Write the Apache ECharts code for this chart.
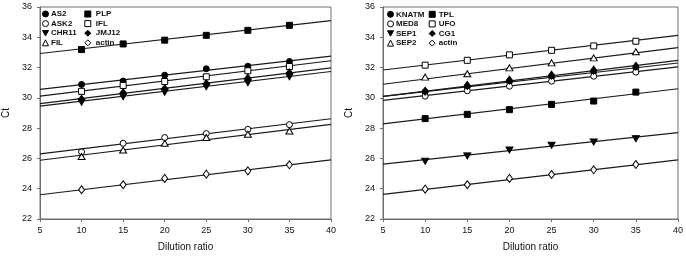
<!DOCTYPE html>
<html><head><meta charset="utf-8">
<script src="https://cdn.jsdelivr.net/npm/echarts@6/dist/echarts.min.js"></script>
<style>html,body{margin:0;padding:0;background:#fff}#c{width:686px;height:257px}</style>
</head><body><div id="c"></div>
<script>
// Dilution ratios (x) for the measured points
const dilution = [10, 15, 20, 25, 30, 35];
// x range used for regression lines
const fitX = [5, 40];
const xTicks = [5, 10, 15, 20, 25, 30, 35, 40];
const yTicks = [22, 24, 26, 28, 30, 32, 34, 36];

// Left panel Ct values
const AS2   = [30.89, 31.11, 31.50, 31.92, 32.09, 32.40];
const ASK2  = [26.43, 27.00, 27.38, 27.64, 27.92, 28.23];
const CHR11 = [29.72, 30.07, 30.38, 30.73, 31.00, 31.39];
const FIL   = [26.13, 26.56, 27.00, 27.38, 27.60, 27.81];
const PLP   = [33.19, 33.56, 33.81, 34.13, 34.46, 34.79];
const IFL   = [30.43, 30.82, 31.08, 31.39, 31.79, 32.07];
const JMJ12 = [29.90, 30.34, 30.60, 30.93, 31.30, 31.65];
const actinL= [23.93, 24.26, 24.68, 24.96, 25.18, 25.58];
// Left panel regression line values at x = 5 and x = 40
const AS2fit   = [30.56, 32.75];
const ASK2fit  = [26.30, 28.62];
const CHR11fit = [29.46, 31.74];
const FILfit   = [25.88, 28.25];
const PLPfit   = [32.93, 35.10];
const IFLfit   = [30.12, 32.45];
const JMJ12fit = [29.62, 31.98];
const actinLfit= [23.60, 25.90];

// Right panel Ct values
const KNATM = [30.40, 30.72, 31.08, 31.40, 31.72, 31.98];
const MED8  = [30.11, 30.47, 30.77, 31.10, 31.43, 31.70];
const SEP1  = [25.82, 26.17, 26.56, 26.87, 27.09, 27.31];
const SEP2  = [31.37, 31.59, 31.98, 32.31, 32.64, 33.04];
const TPL   = [28.63, 28.91, 29.22, 29.57, 29.79, 30.38];
const UFO   = [32.16, 32.48, 32.84, 33.14, 33.43, 33.74];
const CG1   = [30.44, 30.82, 31.17, 31.50, 31.83, 32.09];
const actinR= [23.97, 24.26, 24.68, 24.94, 25.25, 25.60];
// Right panel regression line values at x = 5 and x = 40
const KNATMfit = [30.10, 32.30];
const MED8fit  = [29.84, 32.05];
const SEP1fit  = [25.62, 27.71];
const SEP2fit  = [30.90, 33.32];
const TPLfit   = [28.28, 30.60];
const UFOfit   = [31.84, 34.12];
const CG1fit   = [30.10, 32.48];
const actinRfit= [23.63, 25.90];

const FONT = 'Liberation Sans';
const AXIS_COLOR = '#6e6e6e';
const DOWN_TRI = 'path://M0,0L10,0L5,9Z';
const SYM = {
  fc: ['circle', true], oc: ['circle', false],
  ft: [DOWN_TRI, true], ot: ['triangle', false],
  fs: ['rect', true], os: ['rect', false],
  fd: ['diamond', true], od: ['diamond', false]
};
const leftGenes = [
  ['AS2', AS2, AS2fit, 'fc'], ['ASK2', ASK2, ASK2fit, 'oc'],
  ['CHR11', CHR11, CHR11fit, 'ft'], ['FIL', FIL, FILfit, 'ot'],
  ['PLP', PLP, PLPfit, 'fs'], ['IFL', IFL, IFLfit, 'os'],
  ['JMJ12', JMJ12, JMJ12fit, 'fd'], ['actin', actinL, actinLfit, 'od']
];
const rightGenes = [
  ['KNATM', KNATM, KNATMfit, 'fc'], ['MED8', MED8, MED8fit, 'oc'],
  ['SEP1', SEP1, SEP1fit, 'ft'], ['SEP2', SEP2, SEP2fit, 'ot'],
  ['TPL', TPL, TPLfit, 'fs'], ['UFO', UFO, UFOfit, 'os'],
  ['CG1', CG1, CG1fit, 'fd'], ['actin ', actinR, actinRfit, 'od']
];

const series = [];
function addPanel(genes, idx) {
  genes.forEach(g => {
    const [name, vals, fit, sk] = g;
    series.push({
      type: 'line', xAxisIndex: idx, yAxisIndex: idx, name: name + '_fit',
      data: fitX.map((x, i) => [x, fit[i]]), showSymbol: false, symbol: 'none',
      lineStyle: { color: '#1a1a1a', width: 1.2 }, z: 2, silent: true, animation: false
    });
  });
  genes.forEach(g => {
    const [name, vals, fit, sk] = g;
    const [sym, filled] = SYM[sk];
    let size = 6;
    if (sym === 'diamond') size = [6, 8];
    if (sym === 'triangle') size = [7, 6];
    if (sym === DOWN_TRI) size = [7, 6];
    series.push({
      type: 'scatter', xAxisIndex: idx, yAxisIndex: idx, name: name,
      data: dilution.map((x, i) => [x, vals[i]]), symbol: sym, symbolSize: size,
      itemStyle: { color: filled ? '#000' : '#fff', borderColor: '#000', borderWidth: 1, opacity: 1 },
      z: 5, animation: false
    });
  });
}
addPanel(leftGenes, 0);
addPanel(rightGenes, 1);

function legendFor(genes, from, left, top, textShift) {
  return {
    orient: 'vertical', left: left, top: top, padding: 0, itemGap: 0,
    itemWidth: 6, itemHeight: 6, selectedMode: false,
    data: genes.slice(from, from + 4).map(g => {
      const [sym, filled] = SYM[g[3]];
      return { name: g[0], icon: sym, itemStyle: { color: filled ? '#000' : '#fff', borderColor: '#000', borderWidth: 1 } };
    }),
    textStyle: { fontFamily: FONT, fontSize: 8, fontWeight: 'bold', color: '#111', lineHeight: 9.6, padding: [0, 0, 0, textShift] }
  };
}

function xAxis(gi) {
  return {
    type: 'value', gridIndex: gi, min: 5, max: 40, interval: 5,
    name: 'Dilution ratio', nameLocation: 'middle', nameGap: 23,
    nameTextStyle: { fontFamily: FONT, fontSize: 10, color: '#111' },
    axisLine: { show: true, lineStyle: { color: AXIS_COLOR, width: 1 } },
    axisTick: { show: true, inside: false, length: 3, lineStyle: { color: AXIS_COLOR } },
    axisLabel: { fontFamily: FONT, fontSize: 9, color: '#111', margin: 7 },
    splitLine: { show: false }
  };
}
function yAxis(gi) {
  return {
    type: 'value', gridIndex: gi, min: 22, max: 36, interval: 2,
    name: 'Ct', nameLocation: 'middle', nameGap: 29, nameRotate: 90,
    nameTextStyle: { fontFamily: FONT, fontSize: 10, color: '#111' },
    axisLine: { show: true, lineStyle: { color: AXIS_COLOR, width: 1 } },
    axisTick: { show: true, inside: false, length: 3, lineStyle: { color: AXIS_COLOR } },
    axisLabel: { fontFamily: FONT, fontSize: 9, color: '#111', margin: 8 },
    splitLine: { show: false }
  };
}

const chart = echarts.init(document.getElementById('c'), null, { renderer: 'canvas' });
chart.setOption({
  animation: false,
  backgroundColor: '#fff',
  grid: [
    { left: 38, top: 7, width: 293, height: 213, show: true, borderColor: AXIS_COLOR, borderWidth: 1, backgroundColor: 'transparent' },
    { left: 383, top: 7, width: 295, height: 213, show: true, borderColor: AXIS_COLOR, borderWidth: 1, backgroundColor: 'transparent' }
  ],
  legend: [
    legendFor(leftGenes, 0, 42, 9.2, -2.5),
    legendFor(leftGenes, 4, 84.3, 9.2, 0),
    legendFor(rightGenes, 0, 387, 9.5, -2.5),
    legendFor(rightGenes, 4, 428.7, 9.5, -1.5)
  ],
  xAxis: [xAxis(0), xAxis(1)],
  yAxis: [yAxis(0), yAxis(1)],
  series: series
});
</script></body></html>
